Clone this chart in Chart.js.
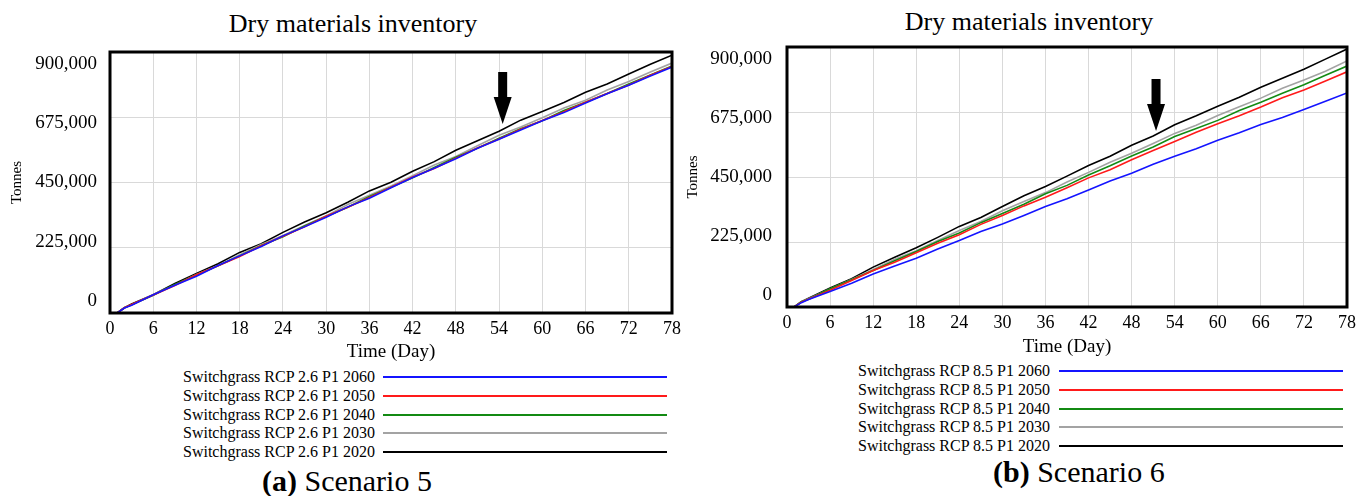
<!DOCTYPE html>
<html>
<head>
<meta charset="utf-8">
<title>Dry materials inventory</title>
<script src="https://cdn.jsdelivr.net/npm/chart.js@4.4.1/dist/chart.umd.min.js"></script>
<style>
    html, body { margin: 0; padding: 0; background: #fff; }
    body {
        width: 1369px; height: 496px; position: relative; overflow: hidden;
        font-family: "Liberation Serif", "Times New Roman", serif; color: #000;
    }
    canvas { position: absolute; top: 0; }
    .chart-title {
        position: absolute; width: 400px; text-align: center;
        font-size: 26px; line-height: 26px; white-space: nowrap;
    }
    .legend-row { position: absolute; height: 18px; font-size: 16px; line-height: 18px; white-space: nowrap; }
    .legend-row .swatch { position: absolute; top: 8px; height: 2px; width: 284px; }
    .caption { position: absolute; font-size: 30px; line-height: 30px; white-space: nowrap; }
</style>
</head>
<body>

<div class="chart-title" style="left:153px; top:11px;">Dry materials inventory</div>
<div class="chart-title" style="left:829px; top:9px;">Dry materials inventory</div>

<canvas id="chart-s5" width="690" height="365" style="left:0px;"></canvas>
<canvas id="chart-s6" width="689" height="360" style="left:680px;"></canvas>

<div id="legend-s5"></div>
<div id="legend-s6"></div>

<div class="caption" style="left:262px; top:466px;"><b>(a)</b> Scenario 5</div>
<div class="caption" style="left:993px; top:457px;"><b>(b)</b> Scenario 6</div>

<script>
// Time axis (days) shared by every series
const days = [0, 1, 2, 3, 6, 9, 12, 15, 18, 21, 24, 27, 30, 33, 36, 39, 42, 45, 48, 51, 54, 57, 60, 63, 66, 69, 72, 75, 78];

// Scenario 5 - Switchgrass RCP 2.6 P1 (tonnes)
const s5_2060 = [0, 0, 17000, 27000, 63000, 96000, 127000, 164000, 197000, 229000, 266000, 297000, 330000, 366000, 396000, 432000, 467000, 499000, 532000, 568000, 599000, 631000, 663000, 691000, 724000, 756000, 785000, 817000, 848000];
const s5_2050 = [0, 0, 18000, 29000, 62000, 95000, 132000, 163000, 195000, 232000, 265000, 297000, 334000, 365000, 398000, 434000, 469000, 498000, 534000, 569000, 600000, 634000, 664000, 694000, 727000, 757000, 786000, 820000, 850000];
const s5_2040 = [0, 0, 18000, 28000, 61000, 98000, 131000, 163000, 197000, 233000, 263000, 300000, 333000, 365000, 402000, 434000, 466000, 502000, 537000, 568000, 603000, 635000, 663000, 698000, 727000, 757000, 790000, 821000, 852000];
const s5_2030 = [0, 0, 18000, 28000, 64000, 97000, 133000, 164000, 201000, 236000, 267000, 302000, 335000, 374000, 406000, 438000, 473000, 510000, 540000, 577000, 613000, 641000, 673000, 707000, 734000, 769000, 798000, 831000, 862000];
const s5_2020 = [0, 0, 18000, 31000, 63000, 102000, 136000, 170000, 209000, 239000, 278000, 314000, 346000, 382000, 421000, 451000, 489000, 522000, 561000, 594000, 627000, 665000, 695000, 726000, 761000, 790000, 824000, 858000, 889000];

// Scenario 6 - Switchgrass RCP 8.5 P1 (tonnes)
const s6_2060 = [0, 0, 15000, 26000, 54000, 82000, 114000, 142000, 169000, 201000, 230000, 261000, 287000, 317000, 348000, 375000, 405000, 436000, 463000, 494000, 522000, 548000, 577000, 603000, 632000, 656000, 684000, 712000, 741000];
const s6_2050 = [0, 0, 17000, 27000, 58000, 92000, 126000, 155000, 188000, 221000, 250000, 286000, 317000, 350000, 380000, 413000, 447000, 475000, 510000, 542000, 573000, 605000, 634000, 662000, 692000, 724000, 751000, 782000, 814000];
const s6_2040 = [0, 0, 18000, 27000, 63000, 94000, 126000, 160000, 192000, 227000, 256000, 292000, 324000, 356000, 392000, 421000, 457000, 489000, 523000, 554000, 590000, 618000, 646000, 680000, 709000, 740000, 769000, 802000, 834000];
const s6_2030 = [0, 0, 18000, 29000, 62000, 95000, 130000, 165000, 195000, 230000, 265000, 296000, 333000, 365000, 396000, 433000, 466000, 501000, 532000, 566000, 601000, 629000, 663000, 693000, 723000, 757000, 786000, 816000, 852000];
const s6_2020 = [0, 0, 18000, 30000, 66000, 98000, 138000, 172000, 205000, 241000, 279000, 310000, 348000, 385000, 417000, 453000, 490000, 522000, 560000, 592000, 631000, 662000, 695000, 726000, 761000, 792000, 823000, 858000, 893000];

// Axis ticks
const xTicks = [0, 6, 12, 18, 24, 30, 36, 42, 48, 54, 60, 66, 72, 78];
const yTicks = [0, 225000, 450000, 675000, 900000];
const yTickLabels = ['0', '225,000', '450,000', '675,000', '900,000'];

// Legend labels / colours (same order in both panels)
const years = ['2060', '2050', '2040', '2030', '2020'];
const colors = ['#1414ff', '#ff1a1a', '#138a13', '#a3a3a3', '#000000'];

Chart.defaults.font.family = '"Liberation Serif", "Times New Roman", serif';
Chart.defaults.color = '#000';

/**
 * Frame, offset y labels and the arrow marker
 */
const panelDecor = {
    id: 'panelDecor',
    afterDraw(chart, args, opts) {
        const { ctx, chartArea: a, scales: { x, y } } = chart;
        ctx.save();

        // y tick labels sit slightly inside the gridlines (pulled to the middle)
        const mid = (a.top + a.bottom) / 2;
        ctx.font = '19px "Liberation Serif", serif';
        ctx.fillStyle = '#000';
        ctx.textAlign = 'right';
        ctx.textBaseline = 'middle';
        yTicks.forEach((v, i) => {
            const py = y.getPixelForValue(v);
            ctx.fillText(yTickLabels[i], a.left - opts.labelGap, mid + (py - mid) * 0.91);
        });

        // thick plot frame
        ctx.lineWidth = 3;
        ctx.strokeStyle = '#000';
        ctx.strokeRect(a.left, a.top, a.right - a.left, a.bottom - a.top);

        // down arrow
        const ax = x.getPixelForValue(opts.arrow.day);
        const ay = y.getPixelForValue(opts.arrow.value);
        ctx.beginPath();
        ctx.moveTo(ax, ay);
        ctx.lineTo(ax - 9, ay - 27);
        ctx.lineTo(ax - 4.5, ay - 27);
        ctx.lineTo(ax - 4.5, ay - 52);
        ctx.lineTo(ax + 4.5, ay - 52);
        ctx.lineTo(ax + 4.5, ay - 27);
        ctx.lineTo(ax + 9, ay - 27);
        ctx.closePath();
        ctx.fill();

        ctx.restore();
    }
};

function buildChart(canvasId, series, layout) {
    const ctx = document.getElementById(canvasId).getContext('2d');
    return new Chart(ctx, {
        type: 'line',
        data: {
            datasets: series.map((vals, i) => ({
                label: layout.prefix + years[i],
                data: days.map((d, j) => ({ x: d, y: vals[j] })),
                borderColor: colors[i],
                borderWidth: 1.6,
                pointRadius: 0,
                tension: 0,
                fill: false
            }))
        },
        options: {
            responsive: false,
            animation: false,
            layout: { padding: { left: layout.padLeft, right: layout.padRight, top: layout.padTop, bottom: 0 } },
            plugins: {
                legend: { display: false },
                tooltip: { enabled: false },
                panelDecor: { arrow: layout.arrow, labelGap: layout.labelGap }
            },
            scales: {
                x: {
                    type: 'linear',
                    min: 0,
                    max: 78,
                    border: { display: false },
                    grid: { color: '#d9d9d9', drawTicks: false },
                    afterBuildTicks: s => { s.ticks = xTicks.map(v => ({ value: v })); },
                    ticks: { padding: 5, color: '#000', font: { size: 18 }, maxRotation: 0, autoSkip: false },
                    title: { display: true, text: 'Time (Day)', color: '#000', font: { size: 19 }, padding: { top: 0, bottom: 2 } },
                    afterFit: s => { s.height = layout.xHeight; }
                },
                y: {
                    min: 0,
                    max: 900000,
                    border: { display: false },
                    grid: { color: '#d9d9d9', drawTicks: false },
                    afterBuildTicks: s => { s.ticks = yTicks.map(v => ({ value: v })); },
                    ticks: { display: false },
                    title: { display: true, text: 'Tonnes', color: '#000', font: { size: 15 }, padding: 0 },
                    afterFit: s => { s.width = layout.yWidth; }
                }
            }
        },
        plugins: [panelDecor]
    });
}

function buildLegend(containerId, prefix, left, top, swatchLeft) {
    const container = document.getElementById(containerId);
    container.innerHTML = years.map((yr, i) => `
        <div class="legend-row" style="left:${left}px; top:${Math.round(top + i * 18.75)}px;">
            <span>${prefix}${yr}</span>
            <span class="swatch" style="left:${swatchLeft}px; background:${colors[i]};"></span>
        </div>
    `).join('');
}

buildChart('chart-s5', [s5_2060, s5_2050, s5_2040, s5_2030, s5_2020], {
    prefix: 'Switchgrass RCP 2.6 P1 ',
    padLeft: 8, padRight: 18, padTop: 52,
    yWidth: 102, xHeight: 52, labelGap: 13,
    arrow: { day: 54.5, value: 652000 }
});

buildChart('chart-s6', [s6_2060, s6_2050, s6_2040, s6_2030, s6_2020], {
    prefix: 'Switchgrass RCP 8.5 P1 ',
    padLeft: 4, padRight: 22, padTop: 47,
    yWidth: 103, xHeight: 53, labelGap: 15,
    arrow: { day: 51.4, value: 609000 }
});

buildLegend('legend-s5', 'Switchgrass RCP 2.6 P1 ', 183, 368, 200);
buildLegend('legend-s6', 'Switchgrass RCP 8.5 P1 ', 858, 362, 201);
</script>
</body>
</html>
